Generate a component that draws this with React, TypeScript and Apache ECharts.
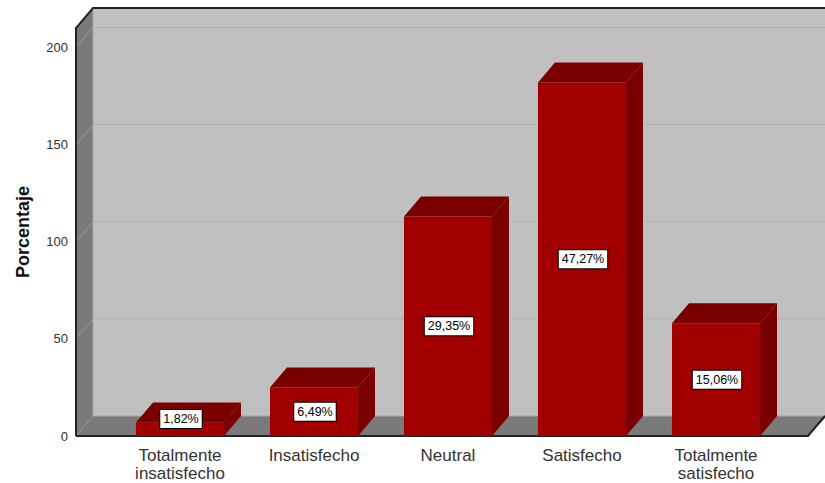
import React, { useEffect, useRef } from "react";
import * as echarts from "echarts";

const categories = ["Totalmente\ninsatisfecho", "Insatisfecho", "Neutral", "Satisfecho", "Totalmente\nsatisfecho"];
const counts = [7, 25, 113, 182, 58];
const percentLabels = ["1,82%", "6,49%", "29,35%", "47,27%", "15,06%"];
const gridValues = [50, 100, 150, 200];
const yMax = 210;

const DX = 17;
const DY = -20;
const PAD_L = 37;
const PAD_R = 25;

export default function App() {
  const ref = useRef<HTMLDivElement>(null);
  useEffect(() => {
    const chart = echarts.init(ref.current!, null, { renderer: "svg" });
    const font = "'Liberation Sans', Arial, sans-serif";
    const option: any = {
      animation: false,
      backgroundColor: "#ffffff",
      grid: { left: 113, right: 42, top: 28, bottom: 47, containLabel: false },
      xAxis: {
        type: "category",
        data: categories,
        axisLine: { show: false },
        axisTick: { show: false },
        axisLabel: { fontFamily: font, fontSize: 17, color: "#333333", lineHeight: 18, margin: 10, interval: 0 },
      },
      yAxis: {
        type: "value",
        min: 0,
        max: yMax,
        interval: 50,
        offset: 37,
        name: "Porcentaje",
        nameLocation: "middle",
        nameRotate: 90,
        nameGap: 44,
        nameTextStyle: { fontFamily: font, fontSize: 18, fontWeight: "bold", color: "#111111" },
        axisLine: { show: false },
        axisTick: { show: false },
        splitLine: { show: false },
        axisLabel: { fontFamily: font, fontSize: 13, color: "#333333", margin: 8, showMaxLabel: false },
      },
      series: [
        {
          type: "custom",
          data: [[0, 0]],
          encode: { x: 0, y: 1 },
          silent: true,
          renderItem: (params: any, api: any) => {
            const cs = params.coordSys;
            const L = cs.x - PAD_L;
            const R = cs.x + cs.width + PAD_R;
            const T = cs.y;
            const B = cs.y + cs.height;
            const children: any[] = [];
            children.push({ type: "rect", shape: { x: L + DX, y: T + DY, width: R - L + 2, height: B - T }, style: { fill: "#c0c0c0" } });
            children.push({ type: "polygon", shape: { points: [[L, T], [L + DX, T + DY], [L + DX, B + DY], [L, B]] }, style: { fill: "#7a7a7a" } });
            children.push({ type: "polygon", shape: { points: [[L, B], [L + DX, B + DY], [R + DX + 2, B + DY], [R, B]] }, style: { fill: "#7a7a7a" } });
            for (const v of gridValues) {
              const y = api.coord([0, v])[1];
              children.push({ type: "line", shape: { x1: L + DX, y1: y + DY, x2: R + DX + 2, y2: y + DY }, style: { stroke: "#b0b0b0", lineWidth: 1 } });
              children.push({ type: "line", shape: { x1: L, y1: y, x2: L + DX, y2: y + DY }, style: { stroke: "#9a9a9a", lineWidth: 1 } });
            }
            children.push({ type: "line", shape: { x1: L + DX, y1: B + DY, x2: R + DX + 2, y2: B + DY }, style: { stroke: "#a8a8a8", lineWidth: 1 } });
            children.push({ type: "line", shape: { x1: L + DX, y1: T + DY, x2: L + DX, y2: B + DY }, style: { stroke: "#a8a8a8", lineWidth: 1 } });
            children.push({ type: "polyline", shape: { points: [[L, B], [L, T], [L + DX, T + DY], [R + DX + 2, T + DY]] }, style: { stroke: "#222222", lineWidth: 2, fill: null } });
            children.push({ type: "polyline", shape: { points: [[L, B], [R, B], [R + DX, B + DY]] }, style: { stroke: "#222222", lineWidth: 2, fill: null } });
            return { type: "group", children };
          },
        },
        {
          type: "custom",
          data: counts.map((v, i) => [i, v]),
          encode: { x: 0, y: 1 },
          renderItem: (params: any, api: any) => {
            const i = api.value(0);
            const v = api.value(1);
            const [cx, yB] = api.coord([i, 0]);
            const yT = api.coord([i, v])[1];
            const w = api.size([1, 0])[0] * 0.657;
            const x0 = cx - w / 2;
            const x1 = cx + w / 2;
            const ly = Math.min((yT + yB) / 2, yB - 17);
            return {
              type: "group",
              children: [
                { type: "rect", shape: { x: x0, y: yT, width: w, height: yB - yT }, style: { fill: "#a20000" } },
                { type: "polygon", shape: { points: [[x1, yB], [x1, yT], [x1 + DX, yT + DY], [x1 + DX, yB + DY]] }, style: { fill: "#7a0000" } },
                { type: "polygon", shape: { points: [[x0, yT], [x1, yT], [x1 + DX, yT + DY], [x0 + DX, yT + DY]] }, style: { fill: "#7a0000" } },
                {
                  type: "text",
                  x: cx + 1,
                  y: ly,
                  style: {
                    text: percentLabels[params.dataIndex],
                    fontFamily: font,
                    fontSize: 12.5,
                    fill: "#000000",
                    align: "center",
                    verticalAlign: "middle",
                    backgroundColor: "#ffffff",
                    borderColor: "#000000",
                    borderWidth: 1,
                    padding: [3, 3, 2, 3],
                  },
                },
              ],
            };
          },
        },
      ],
    };
    chart.setOption(option);
    return () => chart.dispose();
  }, []);
  return <div ref={ref} style={{ position: "fixed", left: 0, top: 0, width: 825, height: 483 }} />;
}
